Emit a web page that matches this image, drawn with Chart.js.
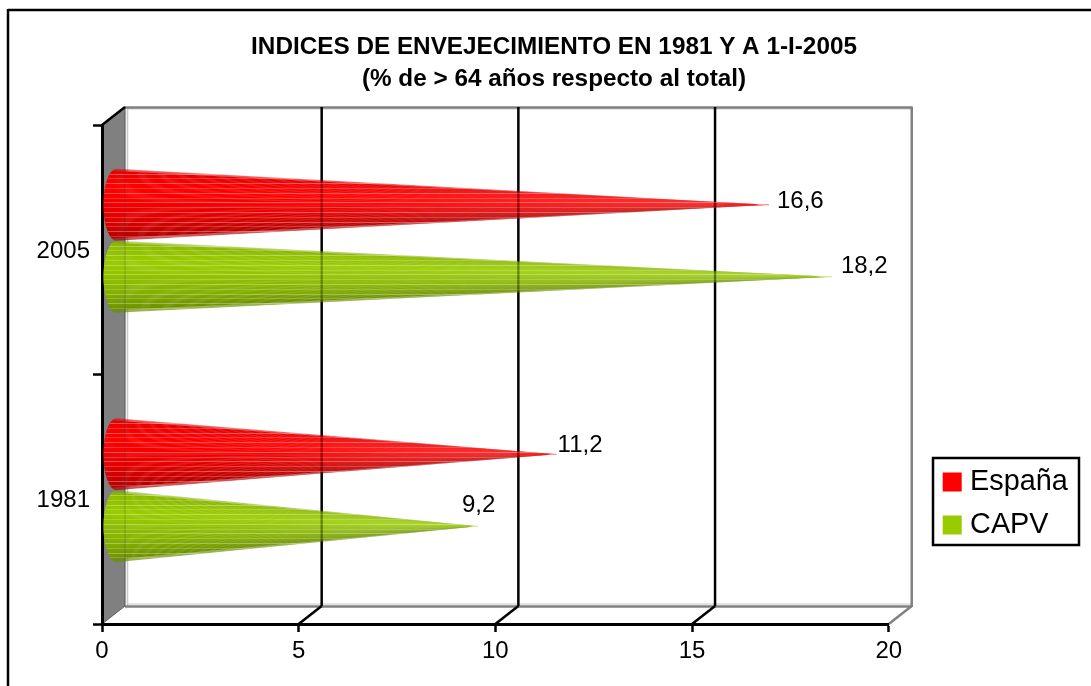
<!DOCTYPE html>
<html>
<head>
<meta charset="utf-8">
<script src="https://cdn.jsdelivr.net/npm/chart.js@4/dist/chart.umd.min.js"></script>
<style>html,body{margin:0;padding:0;background:#fff}canvas{display:block}</style>
</head>
<body>
<canvas id="c" width="1091" height="686"></canvas>
<script>
const categories = ["2005", "1981"];
const espana = [16.6, 11.2];
const capv = [18.2, 9.2];
const xTicks = [0, 5, 10, 15, 20];
const seriesNames = ["España", "CAPV"];
const seriesColors = ["#ff0000", "#99cc00"];
const titleLines = ["INDICES DE ENVEJECIMIENTO EN 1981 Y A 1-I-2005", "(% de > 64 años respecto al total)"];

const FONT = "'Liberation Sans', Arial, sans-serif";
const DEPTH_X = 23, DEPTH_Y = -18;
// cones sit half way in the depth of the 3D box
const CONE_DX = 14, CONE_DY = -9, CONE_BULGE = 13;
// hand-placed data label offsets from each cone tip [series][category]
const labelNudge = [[[8, -3.5], [1, -8.5]], [[9, -10.5], [-16, -20.5]]];

function rgb(hex) { return [1, 3, 5].map(i => parseInt(hex.substr(i, 2), 16)); }
function shade(t) {
  const stops = [[0, .88], [.12, .95], [.3, 1], [.5, .95], [.72, .87], [.9, .76], [1, .68]];
  for (let i = 1; i < stops.length; i++) {
    if (t <= stops[i][0]) {
      const k = (t - stops[i - 1][0]) / (stops[i][0] - stops[i - 1][0]);
      return stops[i - 1][1] + k * (stops[i][1] - stops[i - 1][1]);
    }
  }
  return .68;
}
function coneGeom(el) {
  return { tipX: el.x + CONE_DX, baseX: el.base + CONE_DX, cy: el.y + CONE_DY, r: el.height / 2 };
}
function edgeX(g, y) {
  const s = Math.min(1, Math.abs(y - g.cy) / g.r);
  return g.baseX - CONE_BULGE * Math.sqrt(1 - s * s);
}
function conePath(ctx, g) {
  ctx.beginPath();
  ctx.moveTo(g.tipX, g.cy);
  for (let k = 0; k <= 40; k++) {
    const y = g.cy - g.r + 2 * g.r * k / 40;
    ctx.lineTo(edgeX(g, y), y);
  }
  ctx.closePath();
}
function drawCone(ctx, el, color, area) {
  const g = coneGeom(el), c = rgb(color), n = 72;
  ctx.save();
  for (let i = 0; i < n; i++) {
    const y0 = g.cy - g.r + 2 * g.r * i / n, y1 = g.cy - g.r + 2 * g.r * (i + 1.6) / n;
    const yb = Math.min(y1, g.cy + g.r);
    const f = shade((i + .5) / n);
    ctx.globalAlpha = (i < 2 || i >= n - 3) ? .55 : 1;
    ctx.fillStyle = `rgb(${c.map(v => Math.round(v * f)).join(",")})`;
    ctx.beginPath();
    ctx.moveTo(g.tipX, g.cy);
    const steps = 4;
    for (let k = 0; k <= steps; k++) {
      const y = y0 + (yb - y0) * k / steps;
      ctx.lineTo(edgeX(g, y), y);
    }
    ctx.closePath();
    ctx.fill();
  }
  ctx.globalAlpha = 1;
  // thin visible point of the cone
  ctx.strokeStyle = color;
  ctx.globalAlpha = .55;
  ctx.lineWidth = 1;
  ctx.beginPath();
  ctx.moveTo(g.tipX - 45, g.cy);
  ctx.lineTo(g.tipX, g.cy);
  ctx.stroke();
  ctx.globalAlpha = 1;
  // horizontal facet streaks of the cone
  conePath(ctx, g);
  ctx.clip();
  const rows = Math.round(2 * g.r / 4.8);
  for (let i = 1; i < rows; i++) {
    const y = Math.round(g.cy - g.r + 2 * g.r * i / rows) + .5;
    ctx.strokeStyle = `rgba(255,255,255,${i % 2 ? .3 : .2})`;
    ctx.lineWidth = 1;
    ctx.beginPath();
    ctx.moveTo(edgeX(g, y), y);
    ctx.lineTo(g.tipX, y);
    ctx.stroke();
  }
  ctx.restore();
}
function showThrough(ctx, chart, el) {
  // wall and grid lines faintly visible through the cones
  const g = coneGeom(el), xs = chart.scales.x;
  ctx.save();
  xTicks.forEach(v => {
    const x = xs.getPixelForValue(v) + DEPTH_X;
    if (x >= g.tipX) return;
    const h = g.r * (g.tipX - x) / (g.tipX - g.baseX);
    ctx.strokeStyle = v === 0 ? "rgba(60,60,60,.25)" : "rgba(0,0,0,.28)";
    ctx.lineWidth = v === 0 ? 1 : 2;
    ctx.beginPath();
    ctx.moveTo(x, g.cy - h);
    ctx.lineTo(x, g.cy + h);
    ctx.stroke();
  });
  ctx.restore();
}
function line(ctx, x0, y0, x1, y1, color, w) {
  ctx.strokeStyle = color; ctx.lineWidth = w;
  ctx.beginPath(); ctx.moveTo(x0, y0); ctx.lineTo(x1, y1); ctx.stroke();
}

const box3d = {
  id: "box3d",
  afterLayout(chart) {
    const t = chart.titleBlock, l = chart.legend;
    t.left = 8.5; t.right = t.left + chart.width;
    l.left = 934.5; l.top = 453.5; l.right = 1090; l.bottom = 680;
  },
  beforeDraw(chart) {
    const { ctx, chartArea: a, scales: { x: xs } } = chart;
    ctx.save();
    ctx.fillStyle = "#fff"; ctx.fillRect(0, 0, chart.width, chart.height);
    // outer frame: only top and left are inside the picture
    line(ctx, 8, 10, chart.width, 10, "#000", 2.5);
    line(ctx, 8, 9, 8, chart.height, "#000", 2.5);
    // side wall
    const bx = a.left + DEPTH_X, r = a.right + DEPTH_X, ty = a.top + DEPTH_Y, by = a.bottom + DEPTH_Y;
    ctx.fillStyle = "#808080";
    ctx.beginPath();
    ctx.moveTo(a.left, a.top); ctx.lineTo(bx, ty); ctx.lineTo(bx, by); ctx.lineTo(a.left, a.bottom);
    ctx.closePath(); ctx.fill();
    // back wall edges
    line(ctx, bx + 2.5, ty + 2, r, ty + 2, "#c8c8c8", 1);
    line(ctx, bx + 2.5, ty, bx + 2.5, by, "#c8c8c8", 1.5);
    line(ctx, bx + 2.5, by - 2, r, by - 2, "#c8c8c8", 1);
    line(ctx, bx, ty + .5, r, ty + .5, "#808080", 2.5);
    line(ctx, r, ty - .5, r, by + 1, "#808080", 2.5);
    line(ctx, bx, by + .5, r, by + .5, "#808080", 2.5);
    line(ctx, bx, ty, bx, by, "#606060", 1.2);
    line(ctx, a.right, a.bottom, r, by, "#808080", 2.5);
    line(ctx, a.left, a.bottom, bx, by, "#606060", 1);
    // grid lines on back wall and floor
    xTicks.slice(1, -1).forEach(v => {
      const x = xs.getPixelForValue(v);
      line(ctx, x + DEPTH_X, ty, x + DEPTH_X, by, "#000", 2.5);
      line(ctx, x, a.bottom, x + DEPTH_X, by, "#000", 2.5);
    });
    line(ctx, a.left, a.top, bx, ty, "#000", 2.5);
    ctx.restore();
  },
  beforeDatasetDraw(chart, args) {
    const { ctx, chartArea } = chart;
    args.meta.data.forEach(el => {
      drawCone(ctx, el, chart.data.datasets[args.index].backgroundColor, chartArea);
      showThrough(ctx, chart, el);
    });
    return false;
  },
  afterDatasetsDraw(chart) {
    const { ctx } = chart;
    ctx.save();
    ctx.fillStyle = "#000";
    ctx.font = "24px " + FONT;
    ctx.textAlign = "left";
    ctx.textBaseline = "middle";
    chart.data.datasets.forEach((ds, i) => {
      chart.getDatasetMeta(i).data.forEach((el, j) => {
        const g = coneGeom(el), n = labelNudge[i][j];
        ctx.fillText(String(ds.data[j]).replace(".", ","), g.tipX + n[0], g.cy + n[1]);
      });
    });
    ctx.restore();
  },
  afterDraw(chart) {
    const { ctx } = chart;
    ctx.save();
    ctx.strokeStyle = "#000"; ctx.lineWidth = 2.5;
    ctx.strokeRect(933, 458, 146, 87);
    ctx.restore();
  }
};

new Chart(document.getElementById("c"), {
  type: "bar",
  data: {
    labels: categories,
    datasets: [
      { label: seriesNames[0], data: espana, backgroundColor: seriesColors[0] },
      { label: seriesNames[1], data: capv, backgroundColor: seriesColors[1] }
    ]
  },
  plugins: [box3d],
  options: {
    indexAxis: "y",
    responsive: false,
    animation: false,
    events: [],
    categoryPercentage: .577,
    barPercentage: 1,
    layout: { padding: { left: 0, top: 31, right: 59, bottom: 0 } },
    scales: {
      x: {
        min: 0, max: 20,
        afterFit: s => { s.height = 62; },
        ticks: { stepSize: 5, color: "#000", padding: 5, maxRotation: 0, font: { size: 24, family: FONT } },
        grid: { drawOnChartArea: false, drawTicks: true, tickLength: 8, tickColor: "#000", tickWidth: 2.5 },
        border: { color: "#000", width: 3 }
      },
      y: {
        afterFit: s => { s.width = 102; },
        ticks: { color: "#000", padding: 3, labelOffset: 1.5, font: { size: 24, family: FONT } },
        grid: { drawOnChartArea: false, drawTicks: true, tickLength: 9, tickColor: "#000", tickWidth: 2.5 },
        border: { color: "#000", width: 3 }
      }
    },
    plugins: {
      tooltip: { enabled: false },
      title: {
        display: true, text: titleLines, color: "#000",
        padding: { top: 0, bottom: 30 },
        font: { size: 24.3, weight: "bold", family: FONT, lineHeight: "32px" }
      },
      legend: {
        position: "right", align: "start",
        labels: {
          color: "#000", boxWidth: 7, boxHeight: 7, padding: 14.2,
          font: { size: 28.8, family: FONT },
          generateLabels(chart) {
            return chart.data.datasets.map((d, i) => ({
              text: d.label, fillStyle: d.backgroundColor, strokeStyle: d.backgroundColor,
              lineWidth: 12, lineJoin: "miter", datasetIndex: i, hidden: false, fontColor: "#000"
            }));
          }
        }
      }
    }
  }
});
</script>
</body>
</html>
